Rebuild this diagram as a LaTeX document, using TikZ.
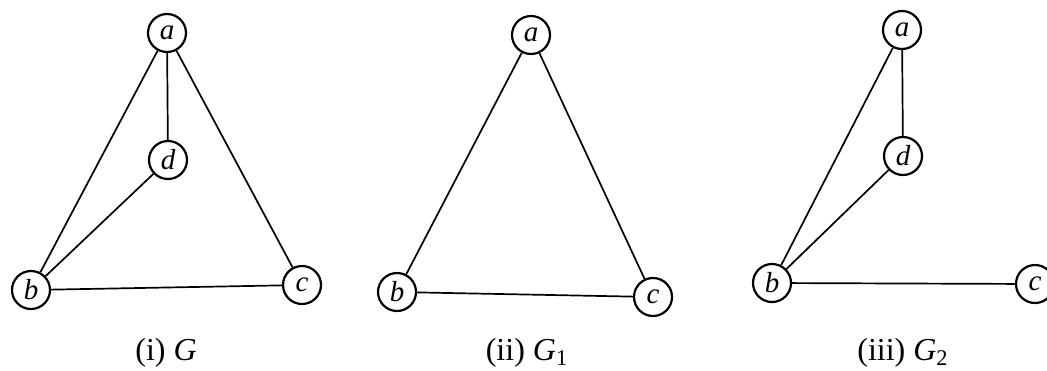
\documentclass[tikz,border=0pt]{standalone}
\usepackage{fontspec}
\setmainfont{Liberation Serif}
\begin{document}
\begin{tikzpicture}[x=0.5pt,y=-0.5pt,
  vtx/.style={draw,circle,line width=1.1pt,minimum size=19pt,inner sep=0pt,font=\fontsize{14.5}{16}\selectfont\itshape},
  edge/.style={line width=0.85pt},
  caption/.style={anchor=base,font=\fontsize{16}{18}\selectfont}]
\useasboundingbox (0,0) rectangle (1047,370);
% (i) G
\node[vtx] (a1) at (167,33) {a};
\node[vtx] (d1) at (168,160) {d};
\node[vtx] (b1) at (31,290) {b};
\node[vtx] (c1) at (302,285) {c};
\draw[edge] (a1) -- (b1);
\draw[edge] (a1) -- (d1);
\draw[edge] (a1) -- (c1);
\draw[edge] (d1) -- (b1);
\draw[edge] (b1) -- (c1);
\node[caption] (l1) at (166,360) {(i) \textit{G}};
% (ii) G1
\node[vtx] (a2) at (531,35) {a};
\node[vtx] (b2) at (397,292) {b};
\node[vtx] (c2) at (653,297) {c};
\draw[edge] (a2) -- (b2);
\draw[edge] (a2) -- (c2);
\draw[edge] (b2) -- (c2);
\node[caption] (l2) at (527,360) {(ii) \textit{G}\textsubscript{1}};
% (iii) G2
\node[vtx] (a3) at (902,30) {a};
\node[vtx] (d3) at (903,156) {d};
\node[vtx] (b3) at (772,283) {b};
\node[vtx] (c3) at (1035,284) {c};
\draw[edge] (a3) -- (b3);
\draw[edge] (a3) -- (d3);
\draw[edge] (d3) -- (b3);
\draw[edge] (b3) -- (c3);
\node[caption] (l3) at (903,360) {(iii) \textit{G}\textsubscript{2}};
\end{tikzpicture}
\end{document}
